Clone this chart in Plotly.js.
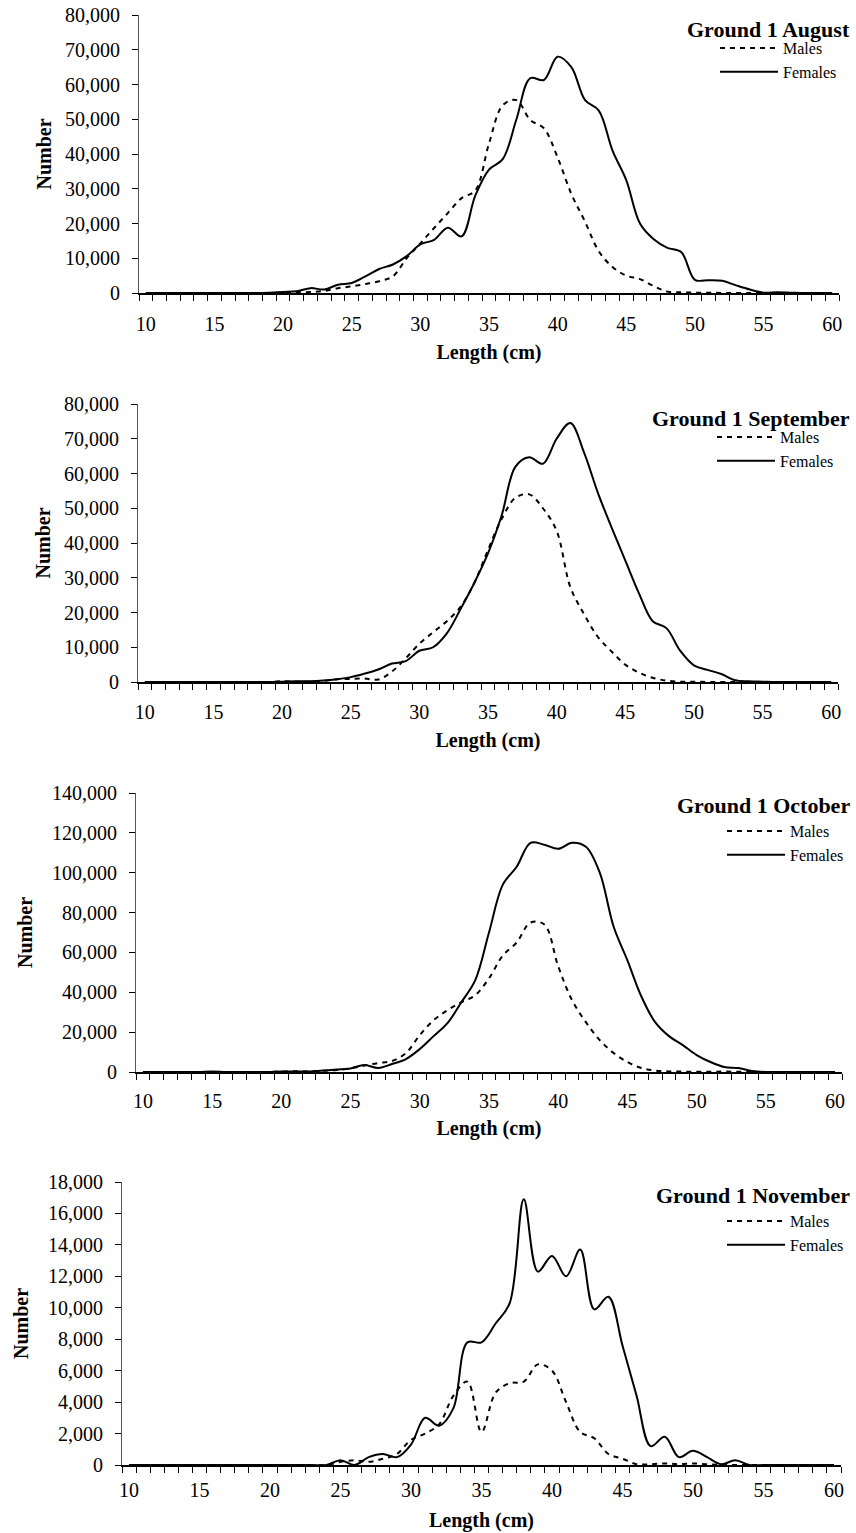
<!DOCTYPE html>
<html><head><meta charset="utf-8">
<script src="https://cdn.plot.ly/plotly-3.0.1.min.js"></script>
<style>html,body{margin:0;padding:0;background:#fff}#chart{width:856px;height:1533px}</style>
</head><body><div id="chart"></div>
<script>
// Length classes (cm)
const lengths = [10,11,12,13,14,15,16,17,18,19,20,21,22,23,24,25,26,27,28,29,30,31,32,33,34,35,36,37,38,39,40,41,42,43,44,45,46,47,48,49,50,51,52,53,54,55,56,57,58,59,60];
const xTickLabels = [10,15,20,25,30,35,40,45,50,55,60];
const seriesNames = ['Males','Females'];
const panelTitles = ['Ground 1 August','Ground 1 September','Ground 1 October','Ground 1 November'];
const yMax = [80000, 80000, 140000, 18000];
const yStep = [10000, 10000, 20000, 2000];

// August
const augMales   = [0,0,0,0,0,0,0,0,0,0,100,200,300,600,1400,1900,2600,3400,4800,10000,14300,18700,23000,27300,29500,43000,54000,55500,49800,47400,39000,28500,20500,12000,7500,5000,4000,2000,400,200,100,100,0,0,0,0,0,0,0,0,0];
const augFemales = [0,0,0,0,0,0,0,0,0,100,300,500,1400,1000,2400,2900,4800,6900,8200,10600,14000,15300,18800,16300,28000,35500,38500,50000,61800,61300,68000,65000,55500,52500,41000,32500,20000,15500,13000,11800,3800,3700,3500,2200,1000,100,200,100,0,0,0];
// September
const sepMales   = [0,0,0,0,0,0,0,0,0,0,200,100,100,300,800,900,1000,700,3000,6800,11000,14300,17500,21600,28500,38000,47000,53000,54000,50000,43500,27300,19500,13000,8800,5000,2700,1200,400,100,100,0,0,0,0,0,0,0,0,0,0];
const sepFemales = [0,0,0,0,0,0,0,0,0,0,100,200,200,400,800,1400,2400,3600,5300,6000,9000,10000,14000,21000,28500,37000,48000,62000,64700,62800,70000,74500,66000,54500,44500,35000,25500,17500,15500,9000,4800,3500,2300,500,200,100,0,0,0,0,0];
// October
const octMales   = [0,0,0,0,0,0,0,0,0,0,200,400,300,600,1000,1800,3200,4500,5500,9500,18500,26000,31000,35000,38500,47000,58500,65000,75000,74000,53000,36000,25000,16000,9500,5000,2000,700,300,200,100,100,200,100,0,0,0,0,0,0,0];
const octFemales = [0,0,0,0,0,300,0,0,0,0,200,200,300,700,1200,1800,3500,2000,4000,6500,11500,18000,24500,35000,46000,70000,94000,103000,115000,114000,112000,115000,113000,100000,73000,56000,38000,25000,18000,13500,8500,5000,2500,2000,500,0,0,0,0,0,0];
// November
const novMales   = [0,0,0,0,0,0,0,0,0,0,0,0,0,0,0,200,300,200,400,700,1600,2000,2600,4400,5300,2100,4600,5200,5300,6400,6000,4000,2100,1700,700,400,50,50,100,50,100,50,0,0,0,0,0,0,0,0,0];
const novFemales = [0,0,0,0,0,0,0,0,0,0,0,0,0,0,0,300,0,500,700,500,1300,3000,2500,3600,7800,7800,9000,10300,16900,12300,13300,12000,13700,9900,10700,7600,4400,1200,1800,500,900,500,50,300,0,0,0,0,0,0,0];

const malesData = [augMales, sepMales, octMales, novMales];
const femalesData = [augFemales, sepFemales, octFemales, novFemales];

const W = 856, H = 1533;
// plot-area pixel boxes [left, right, top, bottom] for each panel
const boxes = [[139,839,15,293],[138,838,404,682],[136,842,793,1072],[122,841,1182,1465]];
const titleY = [29, 418, 805, 1195];
const legendTop = [31, 420, 814, 1204];
const legendLeft = [715, 712, 722, 722];
const xLabelStandoff = [6, 5, 4, 0];
const xTitleStandoff = [11, 11, 10, 13];
const yTitleStandoff = [8, 8, 14, 14];

const FONT = 'Liberation Serif, Times New Roman, serif';
const traces = [];
const layout = {
  width: W, height: H,
  margin: {l:0, r:0, t:0, b:0},
  paper_bgcolor: '#fff', plot_bgcolor: '#fff',
  font: {family: FONT, color: '#000', size: 20},
  annotations: [],
  showlegend: true
};

for (let i = 0; i < 4; i++) {
  const sfx = i === 0 ? '' : String(i + 1);
  const leg = 'legend' + sfx;
  traces.push({
    x: lengths, y: malesData[i], name: seriesNames[0], type: 'scatter', mode: 'lines',
    xaxis: 'x' + sfx, yaxis: 'y' + sfx, legend: leg,
    line: {color: '#000', width: 2, dash: '5px,5px', shape: 'spline', smoothing: 1},
    hoverinfo: 'x+y'
  });
  traces.push({
    x: lengths, y: femalesData[i], name: seriesNames[1], type: 'scatter', mode: 'lines',
    xaxis: 'x' + sfx, yaxis: 'y' + sfx, legend: leg,
    line: {color: '#000', width: 2, shape: 'spline', smoothing: 1},
    hoverinfo: 'x+y'
  });
  const b = boxes[i];
  layout['xaxis' + sfx] = {
    domain: [b[0] / W, b[1] / W], anchor: 'y' + sfx,
    range: [9.5, 60.5], tickmode: 'array', tickvals: xTickLabels, ticktext: xTickLabels.map(String),
    ticks: 'outside', ticklen: 6, tickcolor: 'rgba(0,0,0,0)', ticklabelstandoff: xLabelStandoff[i],
    minor: {tickmode: 'linear', tick0: 9.5, dtick: 1, ticks: 'outside', ticklen: 6, tickwidth: 1, tickcolor: '#000', showgrid: false},
    showline: true, linecolor: '#000', linewidth: 1.5, showgrid: false, zeroline: false,
    tickfont: {size: 20},
    title: {text: '<b>Length (cm)</b>', font: {size: 20}, standoff: xTitleStandoff[i]},
    fixedrange: true
  };
  layout['yaxis' + sfx] = {
    domain: [1 - b[3] / H, 1 - b[2] / H], anchor: 'x' + sfx,
    range: [0, yMax[i]], tickmode: 'linear', tick0: 0, dtick: yStep[i], tickformat: ',d',
    ticks: 'outside', ticklen: 6, tickcolor: '#000', ticklabelstandoff: 8,
    showline: true, linecolor: '#555', linewidth: 1, showgrid: false, zeroline: false,
    tickfont: {size: 20},
    title: {text: '<b>Number</b>', font: {size: 20}, standoff: yTitleStandoff[i]},
    fixedrange: true
  };
  layout[leg] = {
    x: legendLeft[i] / W, xanchor: 'left', y: 1 - legendTop[i] / H, yanchor: 'top',
    bgcolor: 'rgba(0,0,0,0)', borderwidth: 0, itemwidth: 58,
    font: {size: 16}, tracegroupgap: 0, traceorder: 'normal'
  };
  layout.annotations.push({
    xref: 'paper', yref: 'paper', x: 852 / W, xanchor: 'right',
    y: 1 - titleY[i] / H, yanchor: 'middle', showarrow: false,
    text: '<b>' + panelTitles[i] + '</b>', font: {size: 22}
  });
}

Plotly.newPlot('chart', traces, layout, {displayModeBar: false, staticPlot: true});
</script>
</body></html>
